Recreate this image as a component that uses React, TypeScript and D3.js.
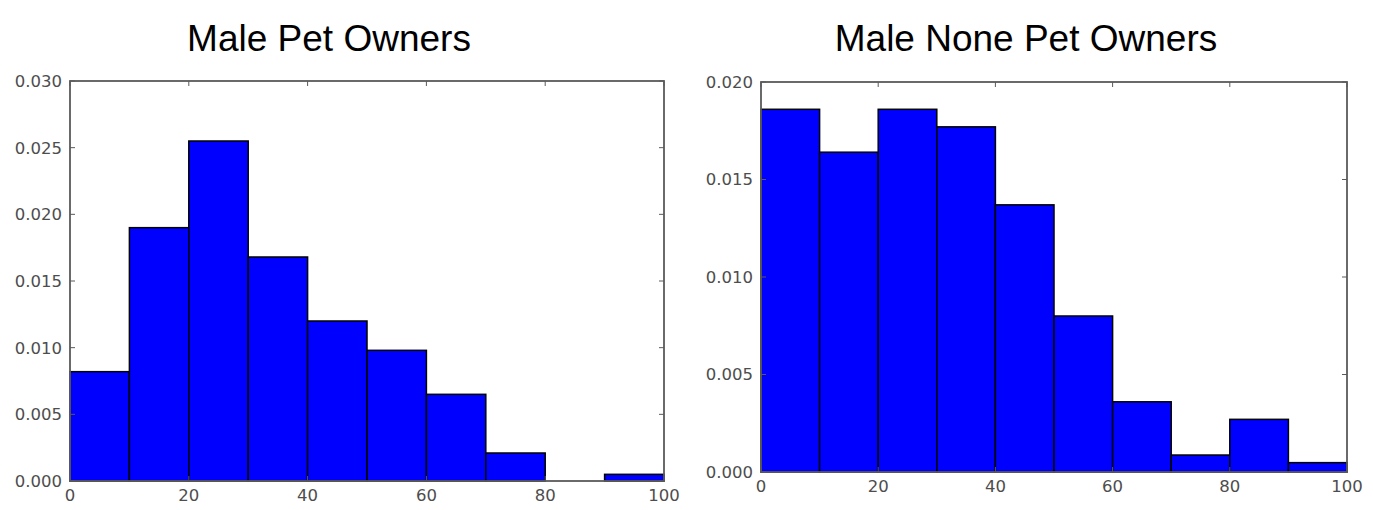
import React from "react";
import * as d3 from "d3";

const binEdges = [0, 10, 20, 30, 40, 50, 60, 70, 80, 90, 100];
const petOwners = [0.0082, 0.019, 0.0255, 0.0168, 0.012, 0.0098, 0.0065, 0.0021, 0.0, 0.0005];
const nonePetOwners = [0.0186, 0.0164, 0.0186, 0.0177, 0.0137, 0.008, 0.0036, 0.00087, 0.0027, 0.00048];
const xTicks = [0, 20, 40, 60, 80, 100];
const yTicksLeft = [0, 0.005, 0.01, 0.015, 0.02, 0.025, 0.03];
const yTicksRight = [0, 0.005, 0.01, 0.015, 0.02];
const titles = ["Male Pet Owners", "Male None Pet Owners"];

type PanelProps = {
  x0: number; x1: number; y0: number; y1: number;
  values: number[]; yMax: number; yTicks: number[]; title: string; titleX: number;
};

function Panel({ x0, x1, y0, y1, values, yMax, yTicks, title, titleX }: PanelProps) {
  const x = d3.scaleLinear().domain([0, 100]).range([x0, x1]);
  const y = d3.scaleLinear().domain([0, yMax]).range([y1, y0]);
  const fmt = d3.format(".3f");
  const frame = "#5a5a5a";
  const tickColor = "#4d4d4d";
  return (
    <g>
      <text x={titleX} y={51} textAnchor="middle" fontFamily="Liberation Sans, Arial, sans-serif" fontSize={37} fill="#000">{title}</text>
      {values.map((v, i) => (
        <rect key={i} x={x(binEdges[i])} y={y(v)} width={x(binEdges[i + 1]) - x(binEdges[i])} height={y(0) - y(v)} fill="#0000ff" stroke="#000" strokeWidth={1.5} />
      ))}
      <rect x={x0} y={y0} width={x1 - x0} height={y1 - y0} fill="none" stroke={frame} strokeWidth={1.8} />
      {yTicks.map((t, i) => (
        <g key={"y" + i}>
          <line x1={x0} x2={x0 + 5} y1={y(t)} y2={y(t)} stroke={frame} strokeWidth={1} />
          <line x1={x1} x2={x1 - 5} y1={y(t)} y2={y(t)} stroke={frame} strokeWidth={1} />
          <text x={x0 - 8} y={y(t)} dy="0.36em" textAnchor="end" fontFamily="DejaVu Sans, sans-serif" fontSize={16.5} fill={tickColor}>{fmt(t)}</text>
        </g>
      ))}
      {xTicks.map((t, i) => (
        <g key={"x" + i}>
          <line x1={x(t)} x2={x(t)} y1={y1} y2={y1 - 5} stroke={frame} strokeWidth={1} />
          <line x1={x(t)} x2={x(t)} y1={y0} y2={y0 + 5} stroke={frame} strokeWidth={1} />
          <text x={x(t)} y={y1 + 20} textAnchor="middle" fontFamily="DejaVu Sans, sans-serif" fontSize={16.5} fill={tickColor}>{t}</text>
        </g>
      ))}
    </g>
  );
}

export default function App() {
  return (
    <svg width={1373} height={510} style={{ position: "absolute", left: 0, top: 0, background: "#fff" }}>
      <rect width={1373} height={510} fill="#fff" />
      <Panel x0={70} x1={664} y0={81} y1={481} values={petOwners} yMax={0.03} yTicks={yTicksLeft} title={titles[0]} titleX={329} />
      <Panel x0={761} x1={1347} y0={82} y1={472} values={nonePetOwners} yMax={0.02} yTicks={yTicksRight} title={titles[1]} titleX={1026} />
    </svg>
  );
}
